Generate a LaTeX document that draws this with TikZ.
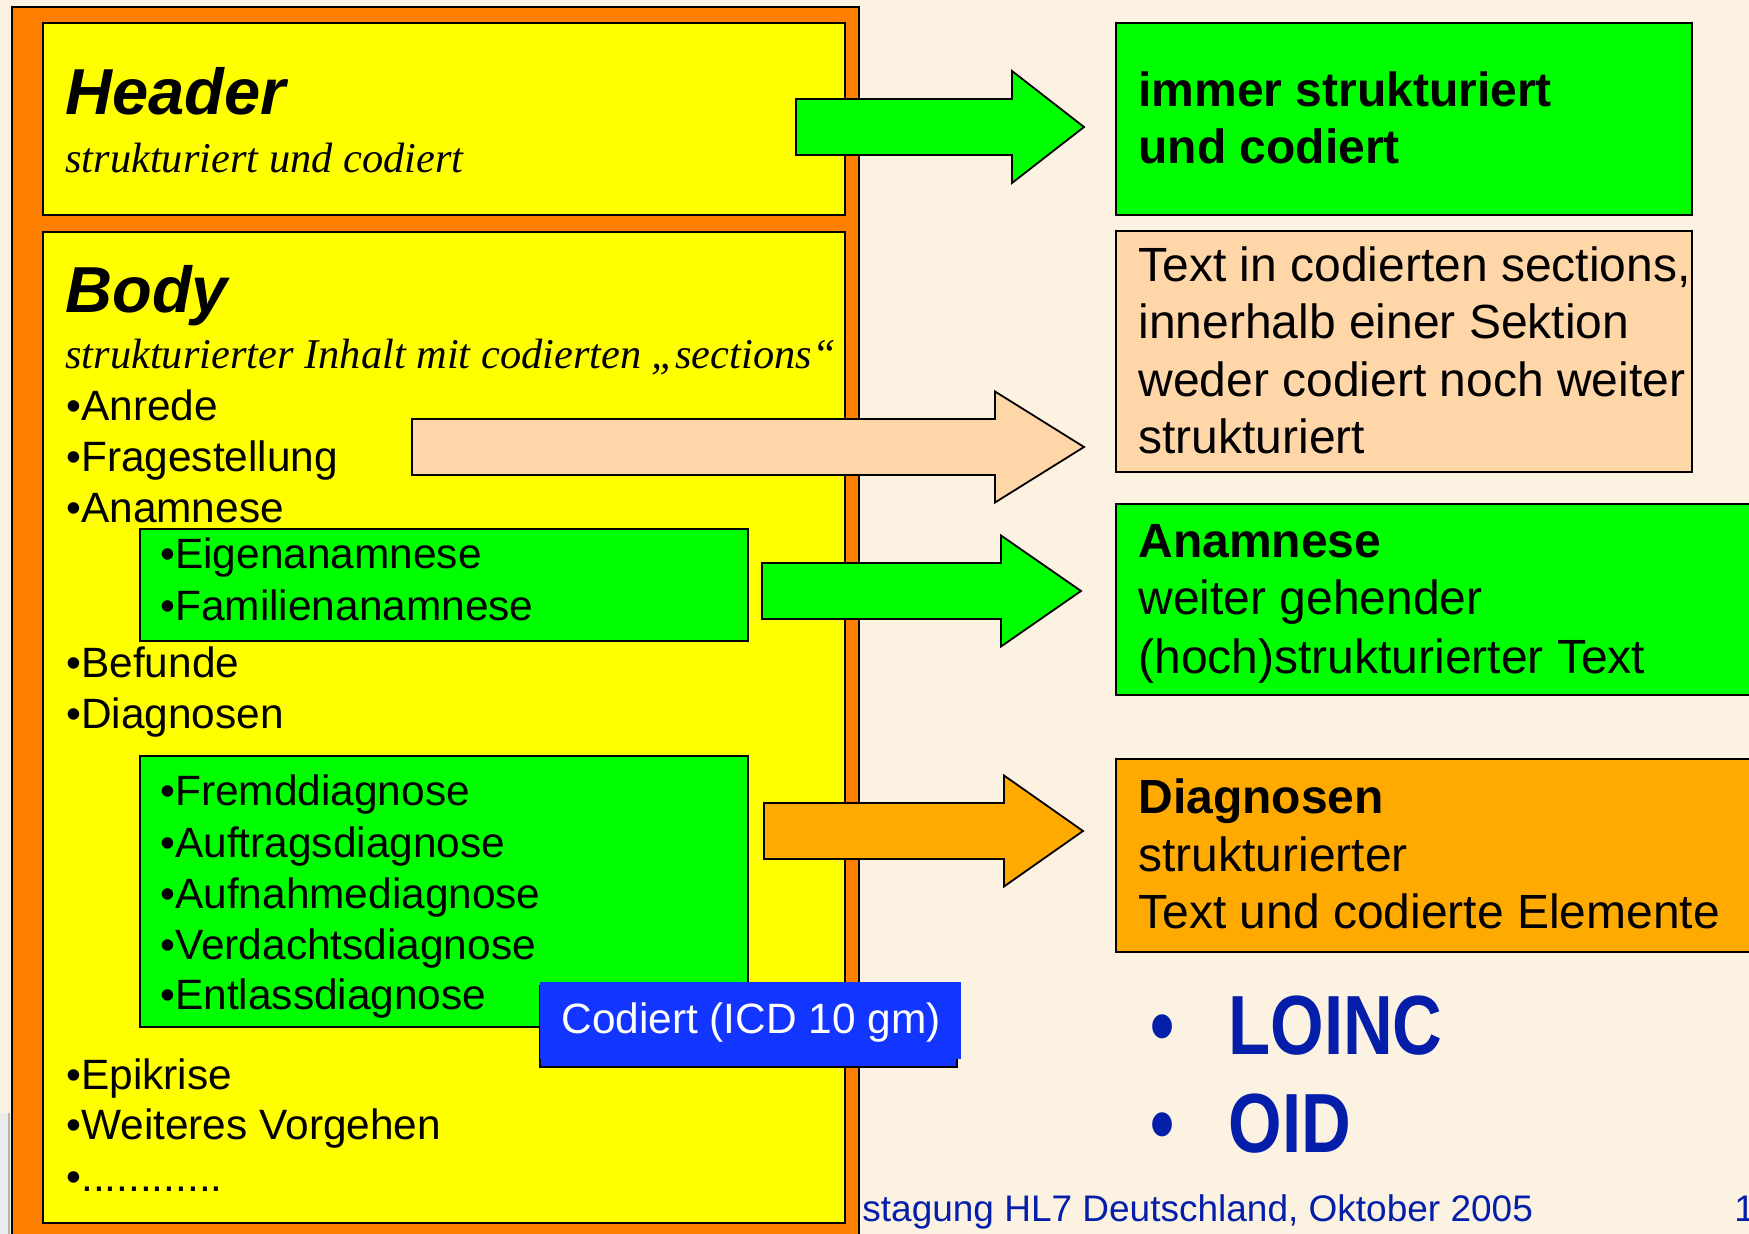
\documentclass[tikz,border=0pt]{standalone}
\usepackage{fontspec}
\setmainfont{Liberation Sans}
\newfontfamily\timesit{Liberation Serif}
\newfontfamily\narrowsans{Liberation Sans}[FakeStretch=0.82]
\usetikzlibrary{fit}
\definecolor{bg}{RGB}{252,242,225}
\definecolor{orng}{RGB}{255,128,0}
\definecolor{yel}{RGB}{255,255,0}
\definecolor{grn}{RGB}{0,255,0}
\definecolor{peach}{RGB}{255,214,168}
\definecolor{diag}{RGB}{255,170,0}
\definecolor{blu}{RGB}{18,54,255}
\definecolor{navy}{RGB}{5,30,170}
\newcommand\blockarr[7]{%
  \draw[blk,fill=#7] (#1,#4-#5) -- (#2,#4-#5) -- (#2,#4-#6) -- (#3,#4) -- (#2,#4+#6) -- (#2,#4+#5) -- (#1,#4+#5) -- cycle;}
\begin{document}
\begin{tikzpicture}[x=0.5pt,y=-0.5pt,
  boxframe/.style={draw=black,line width=0.9pt,inner sep=0pt},
  t21/.style={anchor=base west,inner sep=0pt,font=\fontsize{21.2}{25}\selectfont},
  t24/.style={anchor=base west,inner sep=0pt,font=\fontsize{24}{29}\selectfont},
  t24b/.style={anchor=base west,inner sep=0pt,font=\fontsize{24}{29}\selectfont\bfseries},
  hdrtitle/.style={anchor=base west,inner sep=0pt,font=\fontsize{32.5}{39}\selectfont\bfseries\itshape},
  subt/.style={anchor=base west,inner sep=0pt,font=\fontsize{21.2}{25}\selectfont\timesit\itshape},
  blk/.style={draw=black,line width=0.9pt,line join=miter},
  bigtxt/.style={anchor=base west,inner sep=0pt,text=navy,font=\fontsize{42}{50}\selectfont\narrowsans\bfseries},
  foot/.style={anchor=base west,inner sep=0pt,text=navy,font=\fontsize{18.5}{22}\selectfont},
]
\useasboundingbox (0,0) rectangle (1749,1234);
\fill[bg] (0,0) rectangle (1749,1234);
\clip (0,0) rectangle (1749,1234);

% small fragment at bottom left
\fill[gray!15] (0,1113) rectangle (9,1234);
\draw[gray!60,line width=1pt] (9,1113) -- (9,1234);

% footer
\node[foot] (footer) at (862,1221) {stagung HL7 Deutschland, Oktober 2005};
\node[foot] (pagenum) at (1734,1221) {1};

% left column
\node[boxframe,fill=orng,fit={(12,7) (859,1260)}] (outer) {};
\node[boxframe,fill=yel,fit={(43,23) (845,215)}] (header) {};
\node[boxframe,fill=yel,fit={(43,232) (845,1223)}] (body) {};
\node[boxframe,fill=grn,fit={(140,529) (748,641)}] (anabox) {};
\node[boxframe,fill=grn,fit={(140,756) (748,1027)}] (diagbox) {};

\node[hdrtitle] (htitle) at (65,115) {Header};
\node[subt] (hsub) at (65,173) {strukturiert und codiert};
\node[hdrtitle] (btitle) at (65,313) {Body};
\node[subt] (bsub) at (65,369) {strukturierter Inhalt mit codierten „sections“};

\node[t21] (i1) at (66,421) {•Anrede};
\node[t21] (i2) at (66,472) {•Fragestellung};
\node[t21] (i3) at (66,523) {•Anamnese};
\node[t21] (s1) at (160,569) {•Eigenanamnese};
\node[t21] (s2) at (160,620) {•Familienanamnese};
\node[t21] (i4) at (66,677) {•Befunde};
\node[t21] (i5) at (66,728) {•Diagnosen};
\node[t21] (d1) at (160,805) {•Fremddiagnose};
\node[t21] (d2) at (160,857) {•Auftragsdiagnose};
\node[t21] (d3) at (160,908) {•Aufnahmediagnose};
\node[t21] (d4) at (160,959) {•Verdachtsdiagnose};
\node[t21] (d5) at (160,1009) {•Entlassdiagnose};
\node[t21] (i6) at (66,1089) {•Epikrise};
\node[t21] (i7) at (66,1139) {•Weiteres Vorgehen};
\node[t21] (i8) at (66,1191) {•............};

% right column boxes
\node[boxframe,fill=grn,fit={(1116,23) (1692,215)}] (r1) {};
\node[boxframe,fill=peach,fit={(1116,231) (1692,472)}] (r2) {};
\node[boxframe,fill=grn,fit={(1116,504) (1800,695)}] (r3) {};
\node[boxframe,fill=diag,fit={(1116,759) (1800,952)}] (r4) {};

\node[t24b] (r1a) at (1138,107) {immer strukturiert};
\node[t24b] (r1b) at (1138,164) {und codiert};
\node[t24] (r2a) at (1138,282) {Text in codierten sections,};
\node[t24] (r2b) at (1138,339) {innerhalb einer Sektion};
\node[t24] (r2c) at (1138,397) {weder codiert noch weiter};
\node[t24] (r2d) at (1138,454) {strukturiert};
\node[t24b] (r3a) at (1138,558) {Anamnese};
\node[t24] (r3b) at (1138,615) {weiter gehender};
\node[t24] (r3c) at (1138,673) {(hoch)strukturierter Text};
\node[t24b] (r4a) at (1138,813) {Diagnosen};
\node[t24] (r4b) at (1138,871) {strukturierter};
\node[t24] (r4c) at (1138,928) {Text und codierte Elemente};

% block arrows: left x, head base x, tip x, mid y, half shaft, half head, colour
\blockarr{796}{1012}{1084}{127}{28}{56}{grn}
\blockarr{412}{995}{1084}{447}{28}{55.5}{peach}
\blockarr{762}{1001}{1081}{591}{28}{55.5}{grn}
\blockarr{764}{1004}{1083}{831}{28}{55.5}{diag}

% ICD label
\node[boxframe,fill=blu,fit={(540,986) (957,1067)}] (icdshadow) {};
\node[inner sep=0pt,fill=blu,fit={(540,982) (961,1059)}] (icd) {};
\node[t21,text=white] (icdtxt) at (561,1033) {Codiert (ICD 10 gm)};

% LOINC / OID
\node[bigtxt] (b1) at (1150,1054) {•};
\node[bigtxt] (loinc) at (1228,1054) {LOINC};
\node[bigtxt] (b2) at (1150,1152) {•};
\node[bigtxt] (oid) at (1228,1152) {OID};
\end{tikzpicture}
\end{document}
